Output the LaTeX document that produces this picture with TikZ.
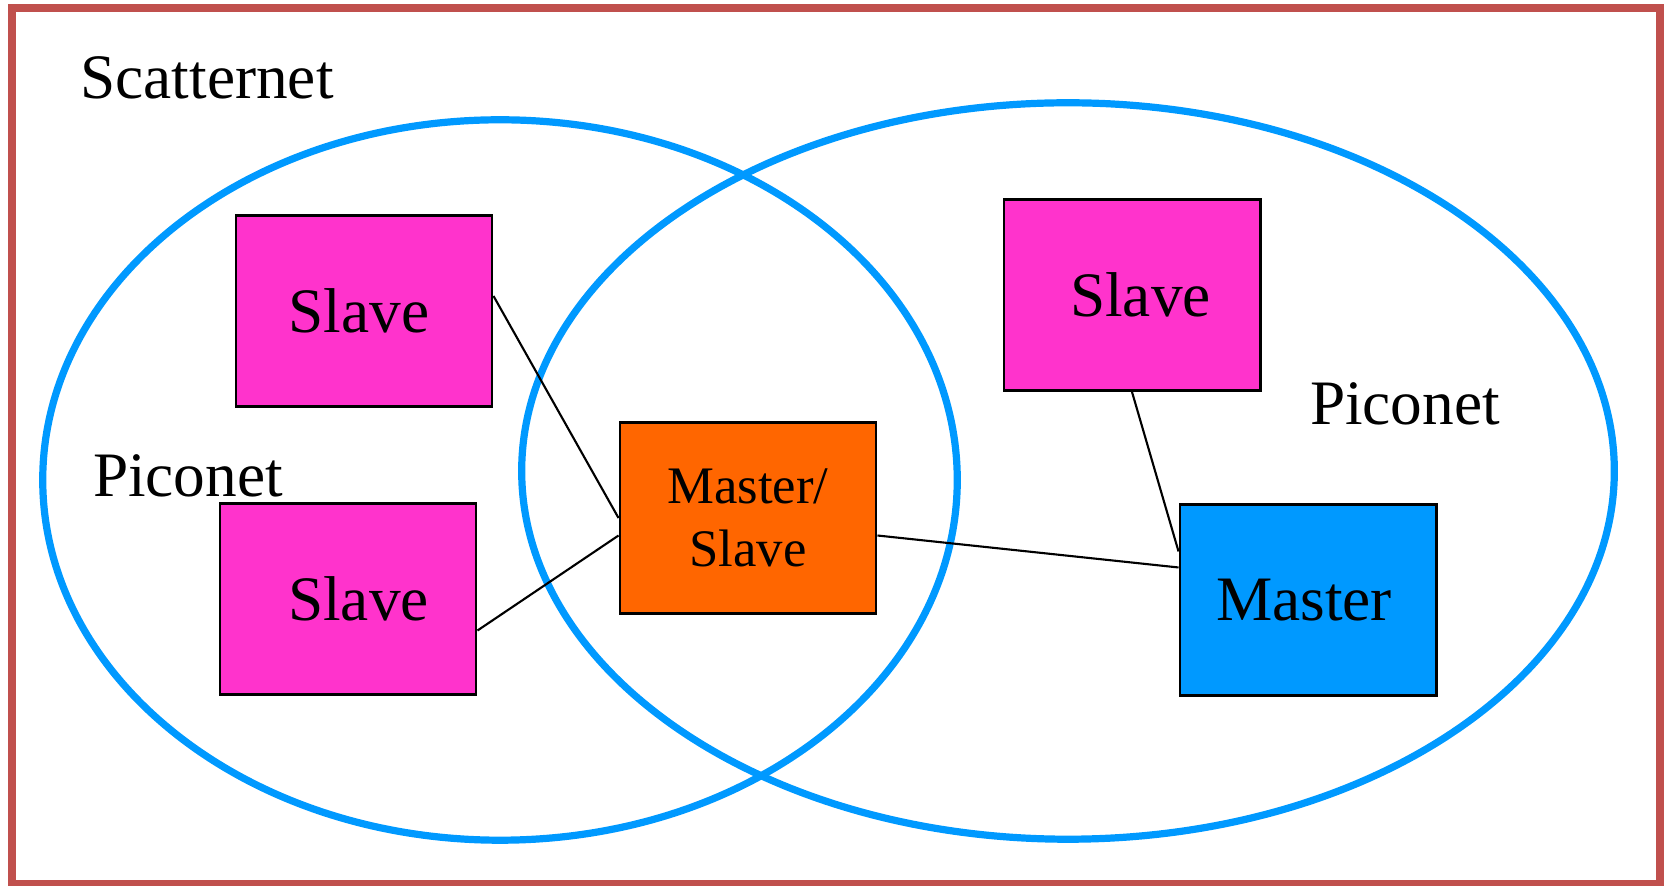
\documentclass[tikz,border=0pt]{standalone}
\usepackage{fontspec}
\setmainfont{Liberation Serif}
\definecolor{framered}{HTML}{C0504D}
\definecolor{netblue}{HTML}{0099FF}
\definecolor{slavepink}{HTML}{FF33CC}
\definecolor{relayorange}{HTML}{FF6600}
\definecolor{masterblue}{HTML}{0099FF}

\begin{document}
\begin{tikzpicture}[x=0.01cm, y=-0.01cm,
    box/.style={draw=black, line width=0.8pt, minimum width=2.56cm, minimum height=1.91cm, inner sep=0pt, font=\fontsize{18}{21}\selectfont},
    nettext/.style={inner sep=0pt, font=\fontsize{18}{21}\selectfont},
    net/.style={draw=netblue, line width=2.05pt}]
                \useasboundingbox (0,0) rectangle (1667,886);
                \draw[framered, line width=0.08cm] (12,8) rectangle (1660,884);
                % the two piconets
                \draw[net] (500,480) ellipse [x radius=4.57cm, y radius=3.6cm];
                \draw[net] (1068,471) ellipse [x radius=5.46cm, y radius=3.68cm];
                \node[nettext] (scat) at (207,78) {Scatternet};
                \node[nettext] (pico1) at (188,476) {Piconet};
                \node[nettext] (pico2) at (1405,404) {Piconet};
                % devices
                \node[box, fill=slavepink] (s1) at (364,311) {Slave\hspace*{0.1cm}};
                \node[box, fill=slavepink] (s2) at (348,599) {\hspace*{0.21cm}Slave};
                \node[box, fill=relayorange, align=center, font=\fontsize{15}{18}\selectfont] (ms) at (748,518) {Master/\\Slave};
                \node[box, fill=slavepink] (s3) at (1132,295) {\hspace*{0.17cm}Slave};
                \node[box, fill=masterblue] (m) at (1308,600) {Master\hspace*{0.08cm}};
                % links
                \draw[line width=0.6pt] ([yshift=0.15cm]s1.east) -- (ms.west);
                \draw[line width=0.6pt] ([yshift=-0.315cm]s2.east) -- ([yshift=-0.175cm]ms.west);
                \draw[line width=0.6pt] ([yshift=-0.175cm]ms.east) -- ([yshift=0.325cm]m.west);
                \draw[line width=0.6pt] (s3.south) -- ([yshift=0.485cm]m.west);
            \end{tikzpicture}
\end{document}
